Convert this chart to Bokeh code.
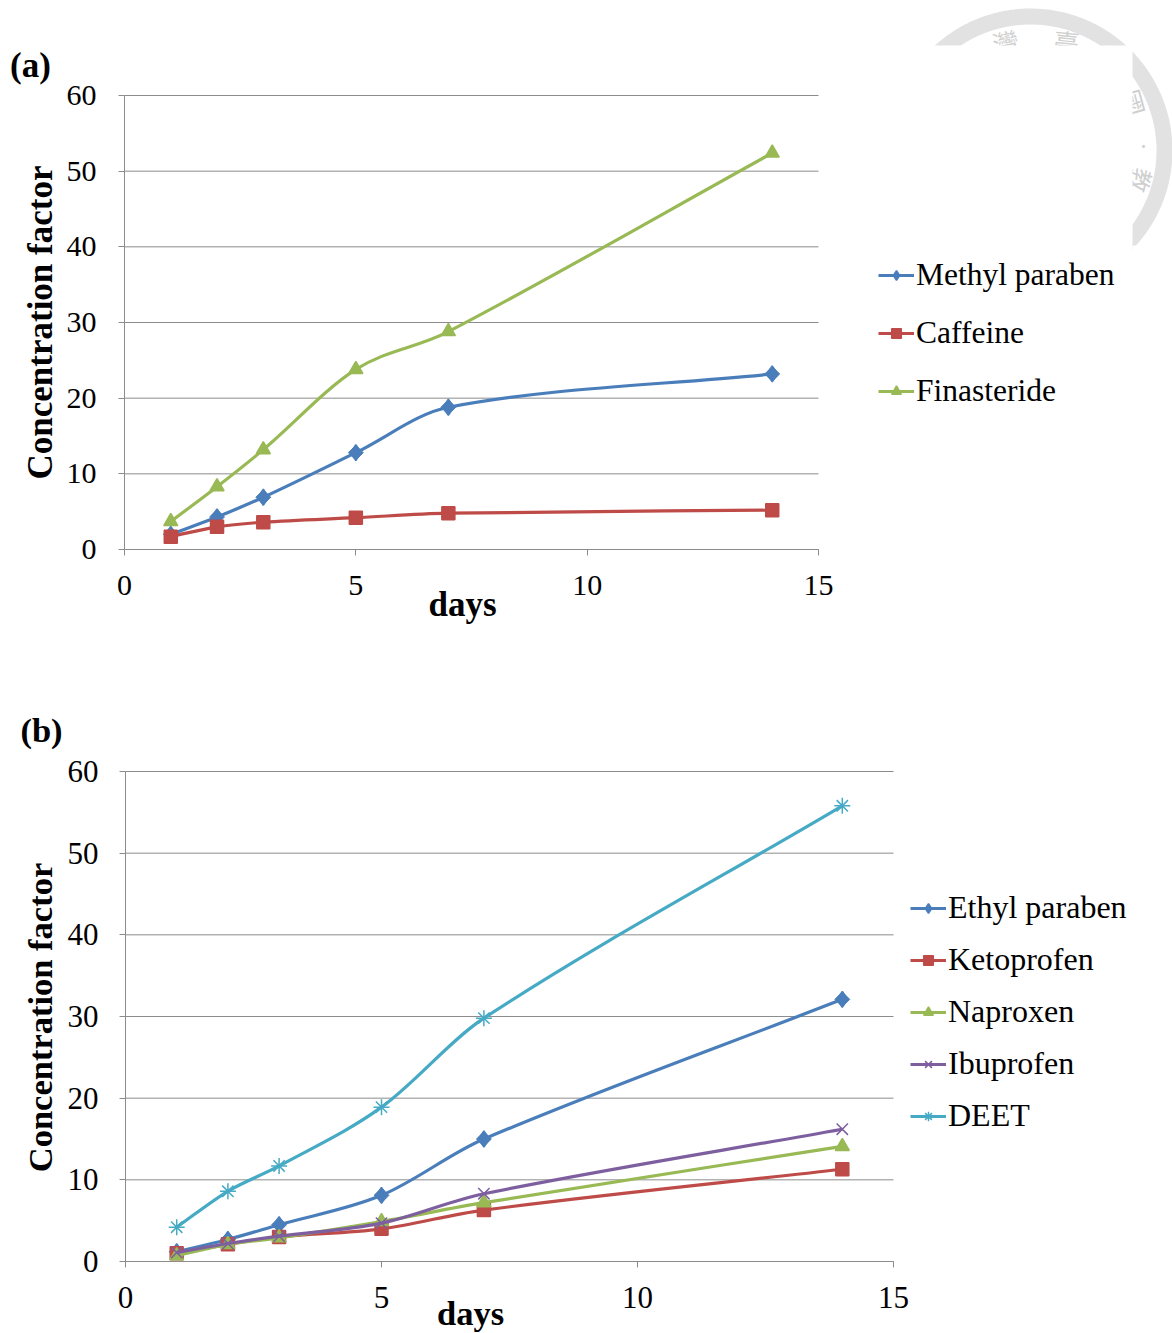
import numpy as np
from bokeh.embed import file_html
from bokeh.layouts import column
from bokeh.models import (BoxAnnotation, ColumnDataSource, FixedTicker, Label, Legend, LegendItem,
                          PolyAnnotation, Range1d)
from bokeh.plotting import figure
from bokeh.resources import INLINE

days = [1, 2, 3, 5, 7, 14]
methyl_paraben = [2.0, 4.3, 6.9, 12.8, 18.8, 23.2]
caffeine = [1.7, 3.0, 3.6, 4.2, 4.8, 5.2]
finasteride = [3.7, 8.3, 13.2, 23.8, 28.8, 52.4]
ethyl_paraben = [1.2, 2.7, 4.5, 8.1, 15.0, 32.1]
ketoprofen = [1.0, 2.1, 3.0, 4.0, 6.3, 11.3]
naproxen = [0.7, 2.1, 2.9, 4.9, 7.2, 14.1]
ibuprofen = [1.1, 2.2, 3.1, 4.7, 8.3, 16.2]
deet = [4.2, 8.6, 11.7, 18.9, 29.8, 55.8]
x_ticks = [0, 5, 10, 15]
y_ticks = [0, 10, 20, 30, 40, 50, 60]

BLUE, RED, GREEN, PURPLE, TEAL = "#4A7EBB", "#BE4B48", "#98B954", "#7D5FA0", "#46AAC5"
SERIF = "Liberation Serif"
AXIS = "#8c8c8c"
WIDTH = 1172


def smooth_source(xs, ys):
    """Bezier control points so the line passes through every read value (chord-scaled tangents)."""
    x, y = np.array(xs, float), np.array(ys, float)
    d = np.diff(x)
    mx, my = np.zeros_like(x), np.zeros_like(y)
    mx[1:-1] = (x[2:] - x[:-2]) / (d[1:] + d[:-1])
    my[1:-1] = (y[2:] - y[:-2]) / (d[1:] + d[:-1])
    mx[0], my[0] = (x[1] - x[0]) / d[0], (y[1] - y[0]) / d[0]
    mx[-1], my[-1] = (x[-1] - x[-2]) / d[-1], (y[-1] - y[-2]) / d[-1]
    return ColumnDataSource(dict(
        x0=x[:-1], y0=y[:-1], x1=x[1:], y1=y[1:],
        cx0=x[:-1] + mx[:-1] * d / 3, cy0=y[:-1] + my[:-1] * d / 3,
        cx1=x[1:] - mx[1:] * d / 3, cy1=y[1:] - my[1:] * d / 3,
    ))


def make_panel(height, left, top, right, bottom, series, tick_px, legend_px, legend_xy, row_gap,
               days_xy, tag, tag_xy, ylabel_xy, title_px, x_standoff, y_standoff):
    """The plot frame fills the whole canvas; the ranges put the axes at the wanted pixels."""
    per_px_x = 15 / (right - left)
    per_px_y = 60 / (bottom - top)
    p = figure(width=WIDTH, height=height, output_backend="svg", toolbar_location=None,
               x_range=Range1d(-left * per_px_x, (WIDTH - left) * per_px_x),
               y_range=Range1d(-(height - bottom) * per_px_y, bottom * per_px_y),
               min_border=0)
    p.outline_line_color = None
    p.border_fill_color = "white"
    p.background_fill_color = "white"
    p.grid.visible = False
    p.segment(x0=0, x1=15, y0=y_ticks, y1=y_ticks, line_color=AXIS, line_width=1, level="underlay")
    p.xaxis.ticker = FixedTicker(ticks=x_ticks)
    p.yaxis.ticker = FixedTicker(ticks=y_ticks)
    p.xaxis.bounds = (0, 15)
    p.yaxis.bounds = (0, 60)
    p.xaxis.fixed_location = 0
    p.yaxis.fixed_location = 0
    for ax in (p.xaxis[0], p.yaxis[0]):
        ax.axis_line_color = AXIS
        ax.major_tick_line_color = AXIS
        ax.major_tick_out = 6
        ax.major_tick_in = 0
        ax.minor_tick_line_color = None
        ax.major_label_text_font = SERIF
        ax.major_label_text_font_size = f"{tick_px}px"
        ax.major_label_text_color = "black"
    p.yaxis.major_label_standoff = y_standoff
    p.xaxis.major_label_standoff = x_standoff
    p.yaxis.major_label_orientation = "horizontal"

    items = []
    for name, vals, color, marker, size in series:
        bez = p.bezier("x0", "y0", "x1", "y1", "cx0", "cy0", "cx1", "cy1",
                       source=smooth_source(days, vals), line_color=color, line_width=3.2)
        filled = marker not in ("x", "asterisk")
        pts = p.scatter(days, vals, marker=marker, size=size, line_color=color,
                        line_width=1.5, fill_color=color if filled else None)
        if marker == "diamond":  # a full square diamond on the chart; the legend keeps the glyph
            p.scatter(days, vals, marker="square", size=10.5, angle=np.pi / 4, line_color=color,
                      line_width=1, fill_color=color)
        items.append(LegendItem(label=name, renderers=[bez, pts], index=0))

    for text, (cx, cy), ang in (("days", days_xy, 0), (tag, tag_xy, 0),
                                ("Concentration factor", ylabel_xy, np.pi / 2)):
        p.add_layout(Label(x=cx, y=cy, x_units="canvas", y_units="canvas", text=text, angle=ang,
                           text_font=SERIF, text_font_style="bold",
                           text_font_size=f"{title_px}px", text_color="black",
                           text_align="center", text_baseline="middle"))

    legend = Legend(items=items, location=legend_xy, orientation="vertical",
                    background_fill_alpha=0, border_line_color=None,
                    margin=0, padding=0, spacing=row_gap, glyph_width=36, glyph_height=24,
                    label_standoff=2, label_height=24,
                    label_text_font=SERIF, label_text_font_size=f"{legend_px}px",
                    label_text_color="black")
    p.add_layout(legend)
    return p


panel_a = make_panel(
    660, 124, 95, 818, 549,
    [("Methyl paraben", methyl_paraben, BLUE, "diamond", 16),
     ("Caffeine", caffeine, RED, "square", 13),
     ("Finasteride", finasteride, GREEN, "triangle", 14)],
    30, 31.5, (878, 251), 22, (462, 604), "(a)", (30, 65), (40, 322), 35, 20, 22)

panel_b = make_panel(
    673, 125, 111, 893, 601,
    [("Ethyl paraben", ethyl_paraben, BLUE, "diamond", 16),
     ("Ketoprofen", ketoprofen, RED, "square", 13),
     ("Naproxen", naproxen, GREEN, "triangle", 14),
     ("Ibuprofen", ibuprofen, PURPLE, "x", 16),
     ("DEET", deet, TEAL, "asterisk", 16)],
    31, 32, (910, 199), 15, (470, 652), "(b)", (41, 69), (39, 357), 34.5, 19, 21)

# faint university seal behind the top-right corner of panel (a)
theta = np.linspace(0, 2 * np.pi, 240)
panel_a.add_layout(PolyAnnotation(
    xs=list(1030 + 134 * np.cos(theta)), ys=list(150 + 134 * np.sin(theta)),
    xs_units="canvas", ys_units="canvas", line_color="#e2e2e2", line_alpha=1, line_width=16,
    fill_alpha=0, level="underlay"))
for text, cx, cy, ang, px in (("灣", 1005, 41, 0.2, 26), ("臺", 1066, 41, -0.1, 26),
                              ("國", 1133, 102, -1.3, 26), ("教", 1141, 180, -1.8, 24),
                              ("•", 1143, 144, 0, 14)):
    panel_a.add_layout(Label(x=cx, y=cy, x_units="canvas", y_units="canvas", text=text,
                             text_font="Noto Sans CJK TC", text_font_size=f"{px}px",
                             text_color="#cfcfcf", text_align="center", text_baseline="middle",
                             angle=ang, level="underlay"))
for l, r, t, b in ((868, 1132, 45, 310), (1132, 1172, 245, 310)):
    panel_a.add_layout(BoxAnnotation(left=l, right=r, top=t, bottom=b, left_units="canvas",
                                     right_units="canvas", top_units="canvas", bottom_units="canvas",
                                     fill_color="white", fill_alpha=1, line_color=None,
                                     level="underlay"))

page = column(column(panel_a), column(panel_b), spacing=0)
open("out.html", "w").write(file_html(page, INLINE))
